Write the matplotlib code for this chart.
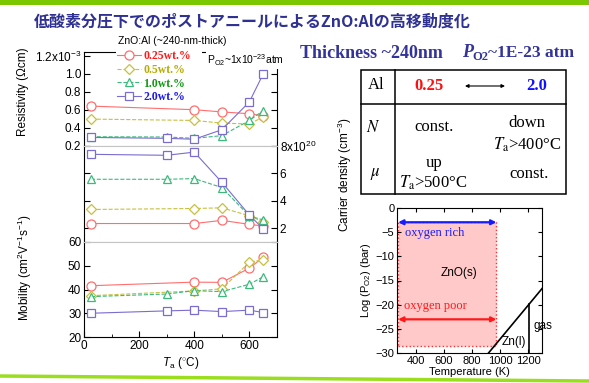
import numpy as np
import matplotlib
matplotlib.use("Agg")
import matplotlib.pyplot as plt
from matplotlib.patches import Rectangle

plt.rcParams['font.family'] = ['Liberation Sans', 'DejaVu Sans']
plt.rcParams['mathtext.fontset'] = 'custom'
plt.rcParams['mathtext.rm'] = 'Liberation Sans'
plt.rcParams['mathtext.it'] = 'Liberation Sans:italic'
plt.rcParams['mathtext.bf'] = 'Liberation Sans:bold'

# ---- data ----
labels = ['0.25wt.%', '0.5wt.%', '1.0wt.%', '2.0wt.%']

ta_red = [25, 400, 500, 600, 650]
rho_red = [0.64, 0.60, 0.575, 0.555, 0.53]
n_red = [2.34, 2.34, 2.57, 2.28, 2.16]
mu_red = [41.6, 43.1, 43.0, 49.0, 53.6]

ta_yel = [25, 400, 500, 600, 650]
rho_yel = [0.495, 0.48, 0.45, 0.44, 0.52]
n_yel = [3.36, 3.43, 3.48, 2.90, 2.45]
mu_yel = [37.4, 39.4, 40.3, 51.5, 52.5]

ta_grn = [25, 300, 400, 500, 600, 650]
rho_grn = [0.298, 0.295, 0.28, 0.31, 0.48, 0.59]
n_grn = [5.55, 5.55, 5.6, 4.95, 2.88, 2.6]
mu_grn = [37.0, 38.1, 39.5, 39.1, 42.2, 45.4]

ta_blu = [25, 300, 400, 500, 600, 650]
rho_blu = [0.29, 0.28, 0.27, 0.376, 0.688, 1.0]
n_blu = [7.36, 7.29, 7.52, 5.33, 2.95, 1.95]
mu_blu = [30.0, 31.0, 31.3, 30.7, 31.3, 30.3]

# phase diagram (Temperature K, log PO2 bar)
anneal_T = [273, 973]
rich_logp = -3
poor_logp = -23
floor_logp = -28.5
zn_line_T = [915, 1300]
zn_line_logp = [-30, -16.6]
zn_boil_T = 1203
zn_boil_logp = [-30, -19.9]

W, H = 589, 383
fig = plt.figure(figsize=(W / 100, H / 100), dpi=100)


def box(l, t, r, b):
    return [l / W, 1 - b / H, (r - l) / W, (b - t) / H]


series = [
    (ta_red, rho_red, n_red, mu_red, '#ff6e6e', 'o', '-', 6.5, '#ff1a1a'),
    (ta_yel, rho_yel, n_yel, mu_yel, '#c8c040', 'D', '--', 5.0, '#b5ad00'),
    (ta_grn, rho_grn, n_grn, mu_grn, '#3cba7c', '^', '--', 6.0, '#119911'),
    (ta_blu, rho_blu, n_blu, mu_blu, '#7b6cd0', 's', '-', 5.5, '#1a1aee'),
]

ax_r = fig.add_axes(box(84, 51.5, 277, 145.5))
ax_n = fig.add_axes(box(84, 145.5, 277, 242))
ax_m = fig.add_axes(box(84, 242, 277, 337))

handles = []
for ta, rho, n, mu, c, mk, ls, ms, tc in series:
    kw = dict(color=c, ls=ls, lw=0.8, marker=mk, ms=ms, mfc='white', mec=c, mew=0.9)
    h, = ax_r.plot(ta, rho, **kw)
    ax_n.plot(ta, n, **kw)
    ax_m.plot(ta, mu, **kw)
    handles.append(h)

gray = '#c4c4c4'
for ax in (ax_r, ax_n, ax_m):
    ax.set_xlim(0, 700)
    ax.tick_params(direction='in', length=4, labelsize=8.5, pad=2, right=True)
    ax.tick_params(which='minor', direction='in', length=2)
ax_r.set_ylim(0.2, 1.25)
ax_r.set_yticks([0.2, 0.4, 0.6, 0.8, 1.0, 1.2])
ax_r.set_yticklabels(['0.2', '0.4', '0.6', '0.8', '1.0', '1.2x10$^{-3}$'])
ax_r.spines['bottom'].set_color(gray)
ax_r.tick_params(axis='x', bottom=False, labelbottom=False)

ax_n.set_ylim(1, 8)
ax_n.set_yticks([2, 4, 6, 8])
ax_n.set_yticklabels(['2', '4', '6', '8x10$^{20}$'])
ax_n.tick_params(axis='y', labelleft=False, labelright=True)
ax_n.spines['top'].set_color(gray)
ax_n.spines['bottom'].set_color(gray)
ax_n.tick_params(axis='x', bottom=False, labelbottom=False)

ax_m.set_ylim(20, 60)
ax_m.set_yticks([20, 30, 40, 50, 60])
ax_m.spines['top'].set_color(gray)
ax_m.set_xticks([0, 200, 400, 600])
ax_m.set_xticks([100, 300, 500, 700], minor=True)
ax_m.tick_params(axis='x', top=False, which='both')
ax_m.set_xlabel(r'$T_{\rm a}$ ($^{\circ}$C)', fontsize=8.5, labelpad=2)

fig.legend(handles, labels, loc='upper left', bbox_to_anchor=(117 / W, 1 - 50 / H),
           prop={'family': 'Liberation Serif', 'weight': 'bold', 'size': 8.5},
           labelcolor=[s[8] for s in series], handlelength=2.0, handletextpad=0.25,
           labelspacing=0.15, borderpad=0, borderaxespad=0, frameon=False)

# phase diagram
ax_p = fig.add_axes(box(397.3, 207.7, 542.3, 353.3))
ax_p.add_patch(Rectangle((anneal_T[0], floor_logp), anneal_T[1] - anneal_T[0],
                         rich_logp - floor_logp, facecolor='#ffc9c9',
                         edgecolor='#ff3030', ls=':', lw=1.0))
ax_p.annotate('', xy=(anneal_T[1], rich_logp), xytext=(anneal_T[0], rich_logp),
              arrowprops=dict(arrowstyle='<|-|>', color='#1a1aff', lw=1.6,
                              mutation_scale=7, shrinkA=0, shrinkB=0))
ax_p.annotate('', xy=(anneal_T[1], poor_logp), xytext=(anneal_T[0], poor_logp),
              arrowprops=dict(arrowstyle='<|-|>', color='#ff1a1a', lw=1.6,
                              mutation_scale=7, shrinkA=0, shrinkB=0))
ax_p.plot(zn_line_T, zn_line_logp, color='black', lw=1.2)
ax_p.plot([zn_boil_T, zn_boil_T], zn_boil_logp, color='black', lw=1.2)
ax_p.text(535, -5.2, 'oxygen rich', color='#1a1aff', fontsize=9,
          family='Liberation Serif', ha='center', va='center')
ax_p.text(535, -20.2, 'oxygen poor', color='#ff1a1a', fontsize=9,
          family='Liberation Serif', ha='center', va='center')
ax_p.text(706, -13.5, 'ZnO(s)', fontsize=8.5, ha='center', va='center')
ax_p.text(1100, -27.6, 'Zn(l)', fontsize=8.5, ha='center', va='center')
ax_p.text(1235, -24.4, 'gas', fontsize=8.5, ha='left', va='center')
ax_p.set_xlim(267, 1300)
ax_p.set_ylim(-30, 0)
ax_p.set_xticks([400, 600, 800, 1000, 1200])
ax_p.set_yticks([-30, -25, -20, -15, -10, -5, 0])
ax_p.tick_params(direction='in', length=3, labelsize=8, pad=2, right=True, top=True)
ax_p.set_xlabel('Temperature (K)', fontsize=8, labelpad=1)
ax_p.set_ylabel(r'Log (P$_{\rm O2}$) (bar)', fontsize=8, labelpad=2)

# overlay in pixel coordinates for slide text
ov = fig.add_axes([0, 0, 1, 1])
ov.set_xlim(0, W)
ov.set_ylim(H, 0)
ov.axis('off')

ov.add_patch(Rectangle((0, 0), W, 4.5, color='#7cc800', lw=0))
ov.plot([0, W], [376, 381], color='#9ade1e', lw=2.5, solid_capstyle='butt')

ov.text(252.5, 22, '低酸素分圧下でのポストアニールによるZnO:Alの高移動度化',
        family=['Noto Sans CJK JP', 'DejaVu Sans'], weight='bold', fontsize=11.5,
        color='#2e3192', ha='center', va='center')

# white box behind the legend hides the top frame there
ov.add_patch(Rectangle((116, 34), 86, 70, facecolor='white', edgecolor='none'))
ov.text(118, 41, 'ZnO:Al (~240-nm-thick)', fontsize=7.5, ha='left', va='center')
ov.text(207, 60, r'P$_{\rm O2}$~1x10$^{-23}$atm', fontsize=7.5, ha='left', va='center',
        bbox=dict(facecolor='white', edgecolor='none', pad=1))

ov.text(23, 92, 'Resistivity (Ωcm)', rotation=90, fontsize=8.5, ha='center', va='center')
ov.text(25, 268, r'Mobility (cm$^{2}$V$^{-1}$s$^{-1}$)', rotation=90, fontsize=8.5,
        ha='center', va='center')
ov.text(345, 175, r'Carrier density (cm$^{-3}$)', rotation=90, fontsize=8.5,
        ha='center', va='center')

navy = '#333399'
ov.text(300, 54, 'Thickness ~240nm', family='Liberation Serif', weight='bold',
        fontsize=13, color=navy, ha='left', va='center')
p1 = ov.text(462, 57, 'P', family='Liberation Serif', weight='bold', style='italic',
             fontsize=13, color=navy, ha='left', va='baseline')
p2 = ov.annotate('O2', xy=(1, 0), xycoords=p1, xytext=(-0.5, 0.5), textcoords='offset points',
                 family='Liberation Serif', weight='bold', fontsize=9, color=navy,
                 ha='left', va='baseline')
ov.annotate('~1E-23 atm', xy=(1, 0), xycoords=(p2, p1), xytext=(0, 0),
            textcoords='offset points', family='Liberation Serif', weight='bold',
            fontsize=12.5, color=navy, ha='left', va='bottom')

# table
ov.add_patch(Rectangle((361, 70), 205, 124, fill=False, edgecolor='black', lw=1.1))
ov.plot([361, 566], [104, 104], color='black', lw=1.1)
ov.plot([395, 395], [70, 194], color='black', lw=1.1)
serif = dict(family='Liberation Serif', fontsize=12, ha='center', va='center',
             math_fontfamily='stix')
ov.text(376, 85, 'Al', **serif)
ov.text(429, 86, '0.25', color='#ff1010', weight='bold', **serif)
ov.text(537, 86, '2.0', color='#1010ff', weight='bold', **serif)
ov.annotate('', xy=(505, 86), xytext=(465, 86),
            arrowprops=dict(arrowstyle='<|-|>', color='black', lw=0.8, mutation_scale=5,
                            shrinkA=0, shrinkB=0))
ov.text(373, 128, '$N$', **serif)
ov.text(375, 174, r'$\mu$', **serif)
ov.text(434, 127, 'const.', **serif)
ov.text(527, 123, 'down', **serif)
ov.text(527, 145, r'$T_{\rm a}$>400°C', **serif)
ov.text(434, 163, 'up', **serif)
ov.text(433, 183, r'$T_{\rm a}$>500°C', **serif)
ov.text(529, 174, 'const.', **serif)

fig.savefig('out.png', dpi=100)
